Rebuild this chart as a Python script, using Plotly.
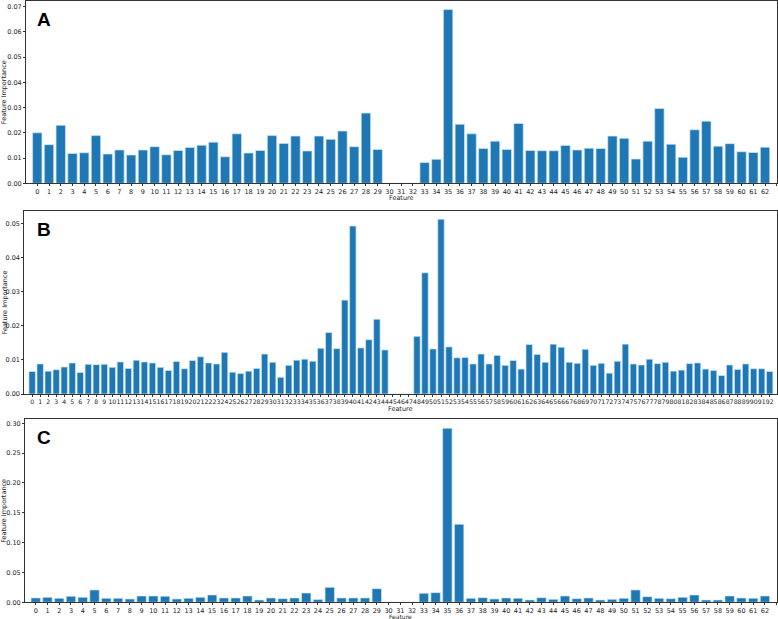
import plotly.graph_objects as go

# ---------------- data ----------------
feat_a = list(range(63))
imp_a = [0.0200, 0.0153, 0.0230, 0.0118, 0.0121, 0.0189, 0.0116, 0.0132, 0.0112, 0.0132,
         0.0145, 0.0113, 0.0130, 0.0142, 0.0151, 0.0163, 0.0105, 0.0196, 0.0120, 0.0130,
         0.0189, 0.0158, 0.0187, 0.0128, 0.0187, 0.0174, 0.0207, 0.0145, 0.0278, 0.0134,
         0.0, 0.0, 0.0, 0.0082, 0.0095, 0.0688, 0.0234, 0.0196, 0.0138, 0.0167,
         0.0134, 0.0237, 0.0130, 0.0129, 0.0129, 0.0150, 0.0132, 0.0139, 0.0138, 0.0187,
         0.0178, 0.0096, 0.0167, 0.0296, 0.0155, 0.0103, 0.0212, 0.0246, 0.0147, 0.0157,
         0.0125, 0.0122, 0.0143]

feat_b = list(range(93))
imp_b = [0.0066, 0.0088, 0.0067, 0.0071, 0.0079, 0.0091, 0.0063, 0.0087, 0.0086, 0.0087,
         0.0078, 0.0094, 0.0075, 0.0099, 0.0094, 0.0091, 0.0078, 0.0069, 0.0095, 0.0074,
         0.0098, 0.0109, 0.0091, 0.0088, 0.0122, 0.0064, 0.0060, 0.0067, 0.0075, 0.0117,
         0.0093, 0.0049, 0.0084, 0.0099, 0.0102, 0.0096, 0.0134, 0.0180, 0.0133, 0.0275,
         0.0492, 0.0135, 0.0159, 0.0219, 0.0129, 0.0, 0.0, 0.0, 0.0169, 0.0355,
         0.0132, 0.0512, 0.0138, 0.0106, 0.0107, 0.0088, 0.0117, 0.0088, 0.0113, 0.0084,
         0.0098, 0.0073, 0.0145, 0.0116, 0.0093, 0.0146, 0.0137, 0.0093, 0.0090, 0.0131,
         0.0084, 0.0090, 0.0061, 0.0096, 0.0146, 0.0088, 0.0085, 0.0102, 0.0089, 0.0093,
         0.0067, 0.0070, 0.0089, 0.0091, 0.0073, 0.0069, 0.0054, 0.0085, 0.0072, 0.0088,
         0.0074, 0.0074, 0.0066]

feat_c = list(range(63))
imp_c = [0.0073, 0.0084, 0.0067, 0.0101, 0.0084, 0.0207, 0.0067, 0.0067, 0.0056, 0.0106,
         0.0106, 0.0101, 0.0056, 0.0067, 0.0084, 0.0123, 0.0073, 0.0073, 0.0106, 0.0039,
         0.0073, 0.0061, 0.0073, 0.0156, 0.0045, 0.0251, 0.0073, 0.0073, 0.0073, 0.0229,
         0.0, 0.0, 0.0, 0.0151, 0.0162, 0.2916, 0.1307, 0.0067, 0.0078, 0.0056,
         0.0073, 0.0067, 0.0039, 0.0078, 0.0050, 0.0106, 0.0061, 0.0073, 0.0039, 0.0050,
         0.0067, 0.0207, 0.0095, 0.0067, 0.0061, 0.0084, 0.0123, 0.0039, 0.0039, 0.0106,
         0.0073, 0.0067, 0.0106]

panel_labels = ["A", "B", "C"]
x_title = "Feature"
y_title = "Feature Importance"

# ---------------- layout geometry ----------------
W, H = 778, 619
BAR = "#1f77b4"
EDGE = "#cfe6f6"
FONT = "DejaVu Sans"

panels = [
    # x, y, x-dom (px), y-dom top/bottom (px), yrange, ydtick, xrange, tick font size, x-title y (px), x-title size
    (feat_a, imp_a, (26, 777), (1, 183.3), [0, 0.0722], 0.01, [-0.96, 63.02], 6.5, 198.3, 6.5),
    (feat_b, imp_b, (24.3, 777.3), (211, 394), [0, 0.0536], 0.01, [-0.98, 92.95], 6.2, 409, 6.5),
    (feat_c, imp_c, (25, 776.7), (419.3, 602.3), [0, 0.3067], 0.05, [-0.91, 63.0], 6.5, 616.2, 6),
]

fig = go.Figure()
layout = dict(
    width=W, height=H,
    margin=dict(l=0, r=0, t=0, b=0, autoexpand=False),
    paper_bgcolor="white", plot_bgcolor="white",
    showlegend=False,
    font=dict(family=FONT, size=6.5, color="#222"),
)
annotations = []
for i, (xs, ys, xd, yd, yr, ydt, xr, xfs, xty, xts) in enumerate(panels):
    n = i + 1
    xa = "x" if n == 1 else f"x{n}"
    ya = "y" if n == 1 else f"y{n}"
    fig.add_trace(go.Bar(
        x=xs, y=ys, xaxis=xa, yaxis=ya, width=0.8,
        marker=dict(color=BAR, line=dict(color=EDGE, width=0.7)),
    ))
    common = dict(showline=True, mirror=True, linecolor="#333", linewidth=1,
                  ticks="outside", ticklen=2, tickwidth=0.8, tickcolor="#333",
                  showgrid=False, zeroline=False, automargin=False)
    layout["xaxis" if n == 1 else f"xaxis{n}"] = dict(
        domain=[xd[0] / W, xd[1] / W], range=xr, anchor=ya,
        tickmode="linear", tick0=0, dtick=1, tickangle=0,
        tickfont=dict(family=FONT, size=xfs, color="#222"),
        **common)
    layout["yaxis" if n == 1 else f"yaxis{n}"] = dict(
        domain=[1 - yd[1] / H, 1 - yd[0] / H], range=yr, anchor=xa,
        tickmode="linear", tick0=0, dtick=ydt, tickformat=".2f",
        tickfont=dict(family=FONT, size=6.5, color="#222"),
        **common)
    # panel letter
    annotations.append(dict(
        text=f"<b>{panel_labels[i]}</b>", xref="paper", yref="paper",
        x=35 / W, y=1 - (yd[0] + 6) / H, xanchor="left", yanchor="top",
        showarrow=False, font=dict(family="Liberation Sans", size=19, color="black")))
    # x-axis title
    annotations.append(dict(
        text=x_title, xref="paper", yref="paper",
        x=(xd[0] + xd[1]) / 2 / W, y=1 - xty / H,
        xanchor="center", yanchor="middle",
        showarrow=False, font=dict(family=FONT, size=xts, color="#222")))
    # y-axis title
    annotations.append(dict(
        text=y_title, xref="paper", yref="paper", textangle=-90,
        x=4 / W, y=1 - (yd[0] + yd[1]) / 2 / H,
        xanchor="center", yanchor="middle",
        showarrow=False, font=dict(family=FONT, size=6.5, color="#222")))
layout["annotations"] = annotations
fig.update_layout(**layout)
fig.write_html("out.html", config={"displayModeBar": False},
               post_script="document.body.style.margin='0';document.body.style.overflow='hidden';")
